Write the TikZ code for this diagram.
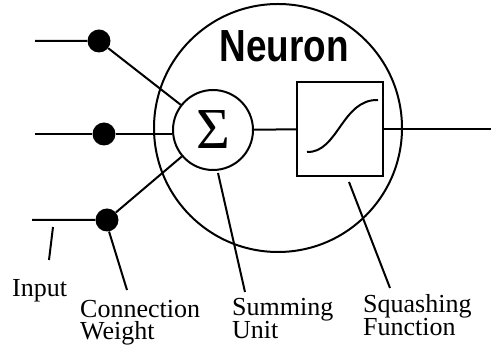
\documentclass[tikz,border=0pt]{standalone}
\usepackage{fontspec}
\setmainfont{Liberation Serif}
\setsansfont{Liberation Sans}
\usepackage{graphicx}
\usepackage{tikz}
\tikzset{
    wire/.style = {line width=2pt},
    weight-dot/.style = {circle, fill=black, inner sep=0pt, minimum size=23pt},
    sum-unit/.style = {draw, circle, line width=2pt, minimum size=80pt, inner sep=0pt},
    squash-box/.style = {draw, rectangle, line width=2pt, minimum width=86pt, minimum height=94pt},
    part-label/.style = {font=\fontsize{26}{22}\selectfont, align=left, anchor=base west, inner sep=0pt},
}

\begin{document}
\begin{tikzpicture}[x=1pt, y=-1pt]
\useasboundingbox (0,0) rectangle (491,352);
% the neuron body
\draw[wire] (278,128) circle (124pt);
\node[font=\fontsize{45}{45}\selectfont\sffamily\bfseries, anchor=base, inner sep=0pt] (title) at (284,62) {\scalebox{0.82}[1]{Neuron}};
\node[sum-unit] (sum) at (213,130) {\fontsize{58}{58}\selectfont Σ};
\node[squash-box] (squash) at (340,129) {};
\draw[wire] (307,152) .. controls (338,153) and (342,99) .. (378,100);

% inputs and weights
\node[weight-dot] (w1) at (99,41) {};
\node[weight-dot] (w2) at (104,134) {};
\node[weight-dot] (w3) at (107,220) {};
\coordinate (in1) at (35,41);
\coordinate (in2) at (35,134);
\coordinate (in3) at (32,220);
\coordinate (out) at (491,129);
\draw[wire] (in1) -- (w1) -- (sum);
\draw[wire] (in2) -- (w2) -- (w2 -| sum.west);
\draw[wire] (in3) -- (w3) -- (sum);
\draw[wire] (sum) -- (squash);
\draw[wire] (squash) -- (out);

% labels (base is the last line)
\node[part-label] (input) at (12,297) {Input};
\node[part-label] (weight) at (80,340) {Connection\\Weight};
\node[part-label, font=\fontsize{26}{21}\selectfont] (summing) at (232,339) {Summing\\Unit};
\node[part-label, font=\fontsize{26}{21}\selectfont] (squashing) at (363,336) {Squashing\\Function};
\coordinate (tip-input) at (53,227);
\coordinate (tip-weight) at (w3.-80);
\coordinate (tip-sum) at (218,173);
\coordinate (tip-squash) at (349,182);
\draw[wire] (tip-input) -- (49,260);
\draw[wire] (tip-weight) -- (127,290);
\draw[wire] (tip-sum) -- (245,292);
\draw[wire] (tip-squash) -- (390,288);
\end{tikzpicture}
\end{document}
